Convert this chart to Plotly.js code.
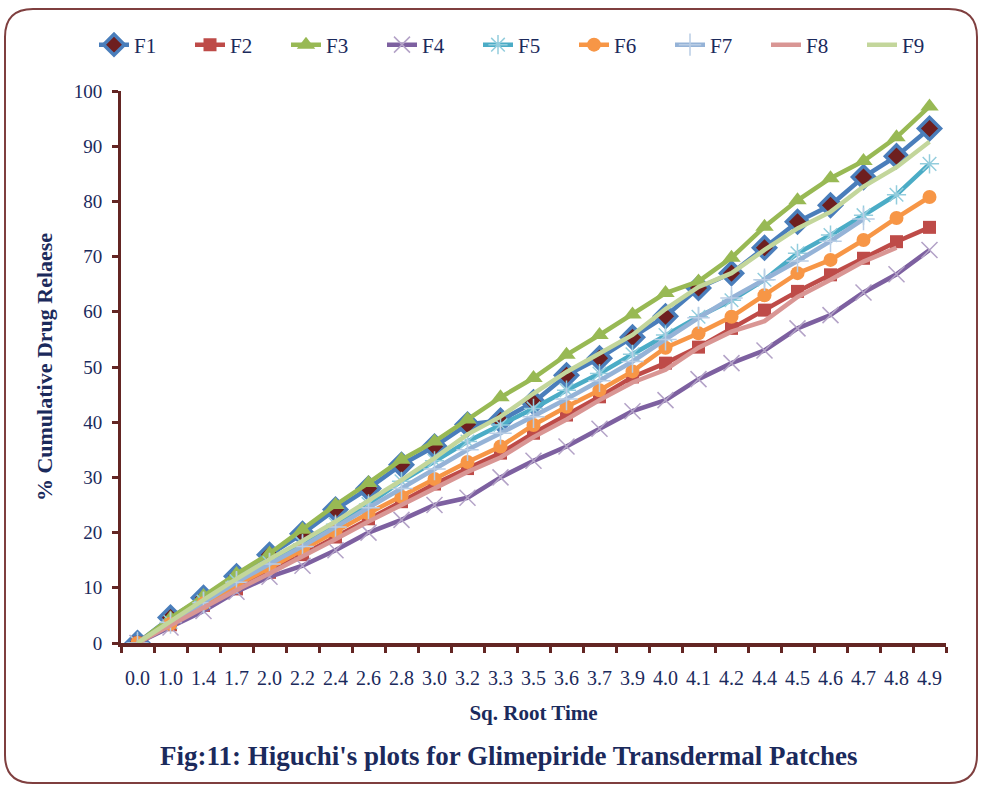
<!DOCTYPE html>
<html>
<head>
<meta charset="utf-8">
<script src="https://cdn.plot.ly/plotly-3.0.1.min.js"></script>
<style>
html,body{margin:0;padding:0;background:#fff;}
#chart{width:981px;height:788px;}
</style>
</head>
<body>
<div id="chart"></div>
<script>
// Square root of time (categories)
const sqRootTime = ["0.0","1.0","1.4","1.7","2.0","2.2","2.4","2.6","2.8","3.0","3.2","3.3","3.5","3.6","3.7","3.9","4.0","4.1","4.2","4.4","4.5","4.6","4.7","4.8","4.9"];

// % cumulative drug release per formulation
const F1 = [0, 4.6, 8.2, 12.1, 16.0, 19.8, 24.2, 28.0, 32.3, 35.6, 39.6, 40.3, 43.6, 48.5, 51.6, 55.4, 59.2, 64.3, 67.0, 71.6, 76.3, 79.3, 84.4, 88.2, 93.2];
const F2 = [0, 3.3, 6.8, 9.8, 12.8, 16.0, 19.2, 22.5, 25.6, 28.8, 31.6, 34.4, 38.0, 41.3, 44.6, 48.2, 50.7, 53.6, 57.0, 60.3, 63.7, 66.7, 69.7, 72.7, 75.3];
const F3 = [0, 4.5, 8.5, 12.5, 16.2, 20.5, 25.0, 29.0, 33.2, 36.5, 40.5, 44.5, 48.0, 52.2, 55.8, 59.5, 63.4, 65.5, 69.8, 75.4, 80.2, 84.2, 87.3, 91.6, 97.2];
const F4 = [0, 2.8, 5.8, 9.3, 12.0, 14.0, 16.8, 20.0, 22.3, 25.0, 26.3, 30.0, 33.0, 35.6, 38.8, 42.0, 44.0, 47.8, 50.7, 53.0, 57.0, 59.4, 63.5, 66.8, 71.2];
const F5 = [0, 3.8, 7.5, 11.2, 14.5, 18.0, 21.5, 25.2, 29.3, 33.0, 36.5, 39.5, 42.5, 45.8, 48.8, 52.3, 55.8, 59.1, 62.1, 65.8, 70.6, 73.9, 77.5, 81.2, 86.8];
const F6 = [0, 3.5, 7.2, 10.5, 13.6, 16.8, 20.2, 23.5, 26.5, 29.7, 32.8, 35.6, 39.5, 42.8, 45.8, 49.2, 53.5, 56.1, 59.1, 63.0, 67.0, 69.4, 73.0, 77.0, 80.8];
const F7 = [0, 3.7, 7.3, 11.0, 14.3, 17.5, 21.0, 24.5, 28.0, 31.5, 35.0, 38.0, 41.0, 44.2, 47.5, 51.0, 55.0, 58.9, 62.5, 65.8, 69.2, 72.8, 76.8, null, null];
const F8 = [0, 3.2, 6.5, 9.6, 12.6, 15.6, 18.8, 22.0, 25.0, 28.0, 31.0, 33.6, 37.3, 40.5, 44.0, 47.2, 49.5, 53.5, 56.4, 58.3, 62.7, 65.8, 69.1, 71.6, null];
const F9 = [0, 4.0, 7.8, 11.6, 15.2, 18.5, 22.0, 25.8, 29.5, 33.5, 37.8, 41.0, 45.2, 49.1, 52.5, 55.8, 60.5, 64.5, 67.0, 71.2, 75.1, 78.1, 82.7, 86.2, 90.8];

const seriesNames = ["F1","F2","F3","F4","F5","F6","F7","F8","F9"];
const seriesData = [F1,F2,F3,F4,F5,F6,F7,F8,F9];

const styles = [
  {color:"#4a7ebb", mode:"lines+markers", marker:{symbol:"diamond", size:17, color:"#6e1f1f", line:{color:"#4a7ebb", width:3.5}}},
  {color:"#be4b48", mode:"lines+markers", marker:{symbol:"square", size:13, color:"#be4b48"}},
  {color:"#98b954", mode:"lines+markers", marker:{symbol:"triangle-up", size:16, color:"#98b954"}},
  {color:"#7d60a0", mode:"lines+markers", marker:{symbol:"x-thin-open", size:16, color:"#b3a2c7", line:{color:"#b3a2c7", width:1.5}}},
  {color:"#4bacc6", mode:"lines+markers", marker:{symbol:"asterisk-open", size:16, color:"#93cddd", line:{color:"#93cddd", width:1.5}}},
  {color:"#f79646", mode:"lines+markers", marker:{symbol:"circle", size:14, color:"#f79646"}},
  {color:"#95b3d7", mode:"lines+markers", marker:{symbol:"cross-thin-open", size:16, color:"#b9cde5", line:{color:"#b9cde5", width:1.5}}},
  {color:"#d99694", mode:"lines", marker:{}},
  {color:"#c3d69b", mode:"lines", marker:{}}
];

const traces = seriesNames.map((n,i)=>({
  type:"scatter",
  name:n,
  x:sqRootTime,
  y:seriesData[i],
  mode:styles[i].mode,
  line:{color:styles[i].color, width:4.5},
  marker:styles[i].marker,
  connectgaps:false
}));

const navy = "#1b2a5c";
const axisCol = "#632523";
const serif = "Liberation Serif";

// rounded frame in paper coordinates
const L=121, R=946, T=91, B=643;
const pw=R-L, ph=B-T;
const px = v => (v-L)/pw;
const py = v => (B-v)/ph;
const x0=px(5), x1=px(977), y0=py(783), y1=py(9);
const rx=28/pw, ry=28/ph;
const framePath = `M ${x0+rx},${y1} L ${x1-rx},${y1} Q ${x1},${y1} ${x1},${y1-ry} L ${x1},${y0+ry} Q ${x1},${y0} ${x1-rx},${y0} L ${x0+rx},${y0} Q ${x0},${y0} ${x0},${y0+ry} L ${x0},${y1-ry} Q ${x0},${y1} ${x0+rx},${y1} Z`;

const layout = {
  width:981, height:788,
  margin:{l:L, r:981-R, t:T, b:788-B},
  paper_bgcolor:"#ffffff",
  plot_bgcolor:"#ffffff",
  font:{family:serif, color:navy},
  showlegend:true,
  legend:{
    orientation:"h",
    x:px(94), xanchor:"left",
    y:py(45), yanchor:"middle",
    font:{family:serif, size:21, color:navy},
    entrywidth:51, entrywidthmode:"pixels",
    itemwidth:30,
    bgcolor:"rgba(0,0,0,0)"
  },
  xaxis:{
    type:"category",
    range:[-0.5, 24.5],
    showline:true, linecolor:axisCol, linewidth:4,
    showgrid:false, zeroline:false,
    ticks:"outside", tickson:"boundaries", ticklen:6, tickwidth:3, tickcolor:axisCol,
    tickfont:{family:serif, size:20, color:navy},
    tickangle:0,
    ticklabelstandoff:14,
    title:{text:"<b>Sq. Root Time</b>", font:{family:serif, size:21, color:navy}, standoff:18},
    fixedrange:true
  },
  yaxis:{
    range:[0,100],
    dtick:10,
    showline:true, linecolor:axisCol, linewidth:3,
    showgrid:false, zeroline:false,
    ticks:"outside", ticklen:6, tickwidth:3, tickcolor:axisCol,
    tickfont:{family:serif, size:19, color:navy},
    ticklabelstandoff:6,
    title:{text:"<b>% Cumulative Drug Relaese</b>", font:{family:serif, size:22, color:navy}, standoff:16},
    fixedrange:true
  },
  annotations:[{
    xref:"paper", yref:"paper",
    x:px(508), y:py(756),
    xanchor:"center", yanchor:"middle",
    showarrow:false,
    text:"<b>Fig:11: Higuchi's plots for Glimepiride Transdermal Patches</b>",
    font:{family:serif, size:27, color:navy}
  }],
  shapes:[{
    type:"path", xref:"paper", yref:"paper",
    path:framePath,
    line:{color:"#7f3f3f", width:2},
    fillcolor:"rgba(0,0,0,0)",
    layer:"below"
  }]
};

Plotly.newPlot("chart", traces, layout, {displayModeBar:false, staticPlot:true});
</script>
</body>
</html>
